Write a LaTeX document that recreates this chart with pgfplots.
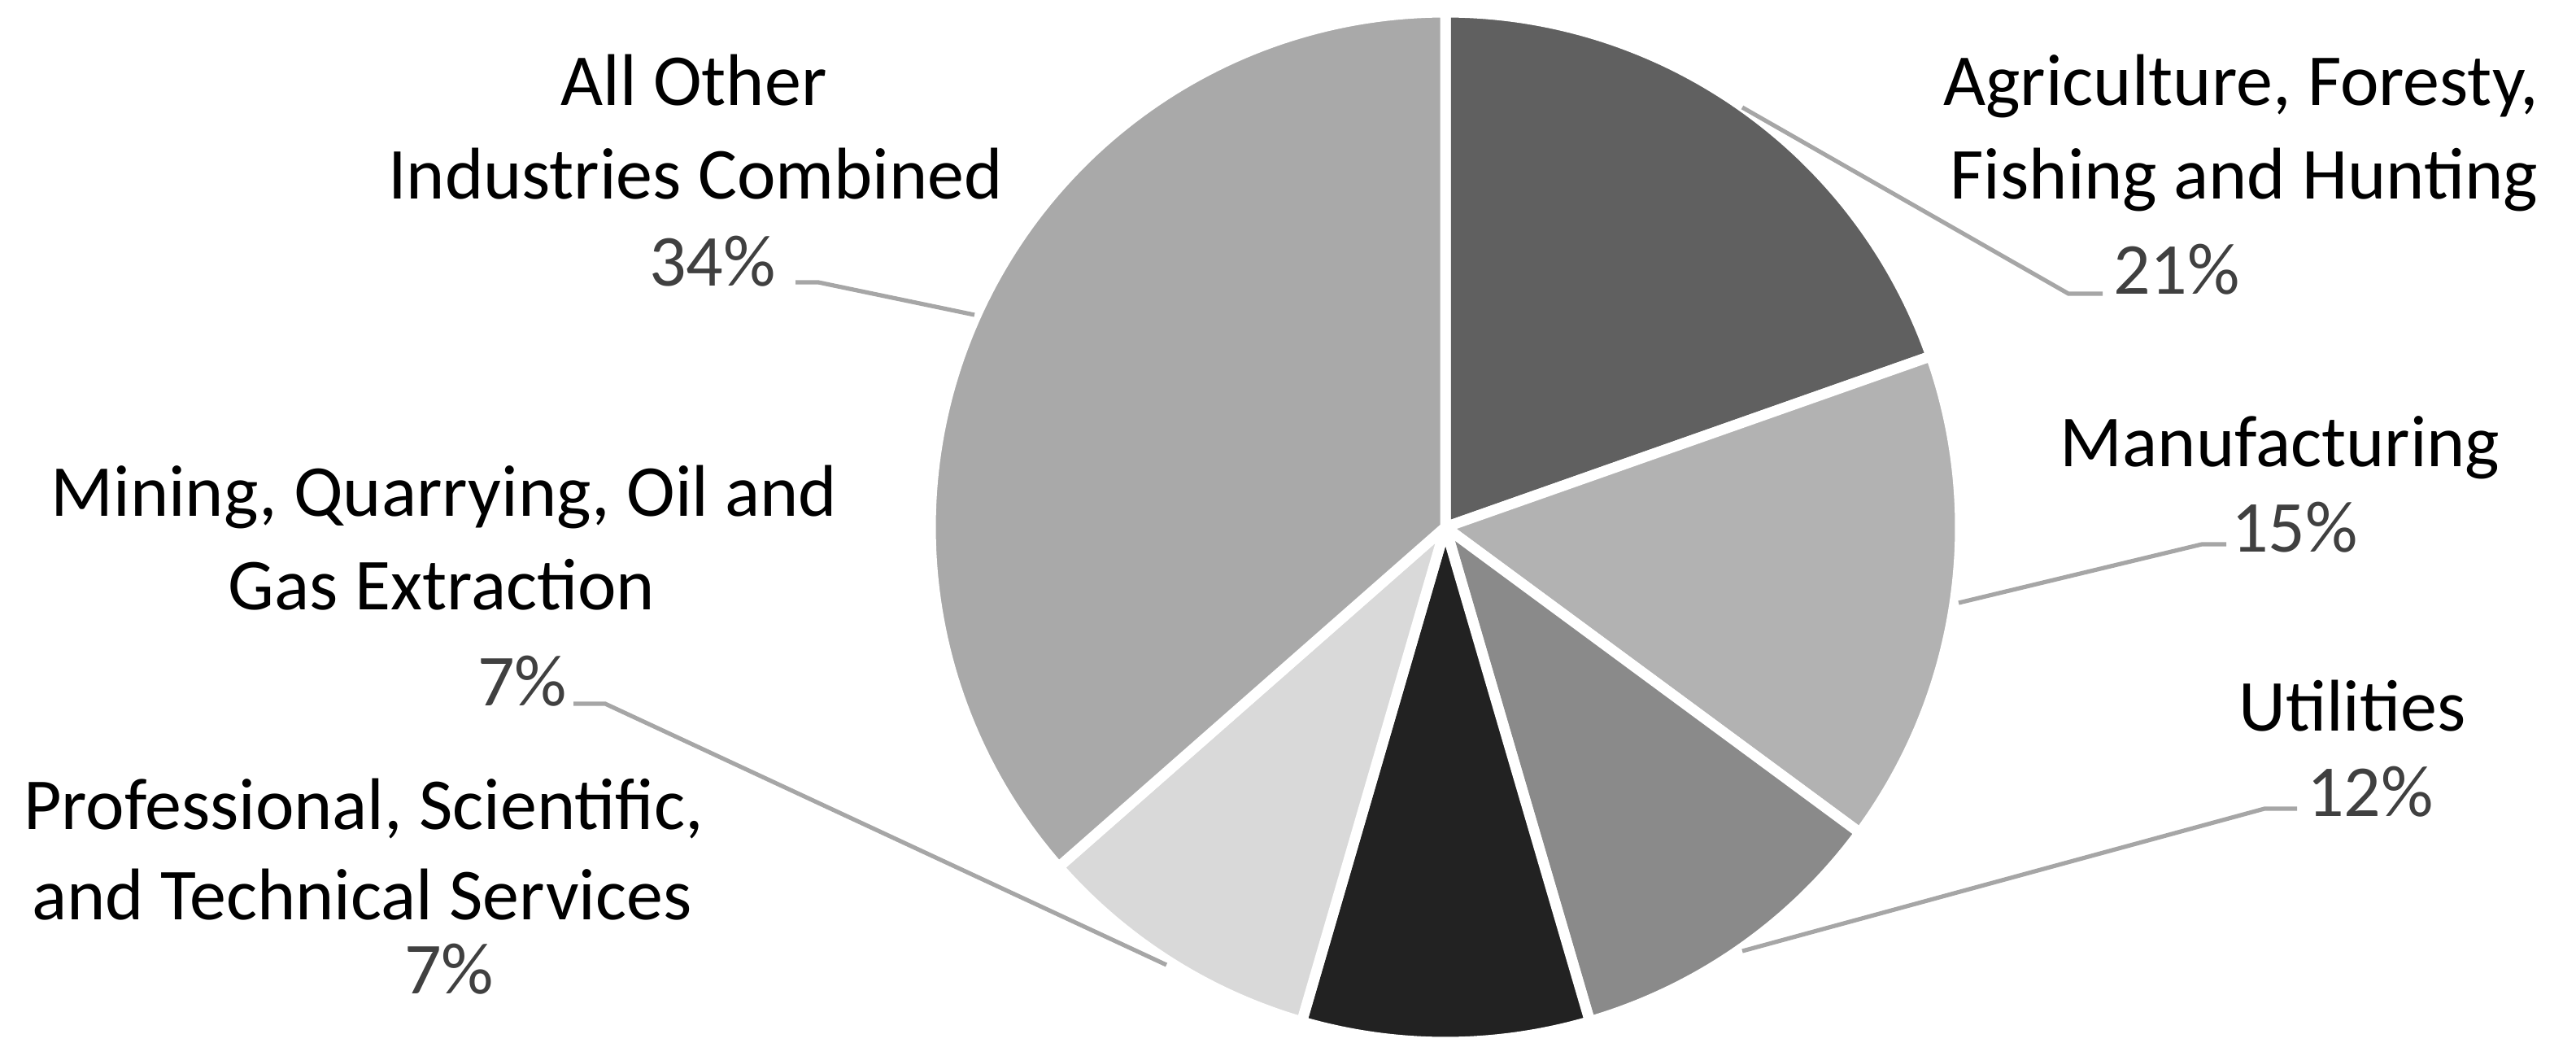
\documentclass[border=0pt]{standalone}
\usepackage{pgfplots}
\pgfplotsset{compat=1.18}
\usepackage{fontspec}
\setmainfont{Carlito}
\definecolor{cAgri}{HTML}{606060}
\definecolor{cManu}{HTML}{B2B2B2}
\definecolor{cUtil}{HTML}{8A8A8A}
\definecolor{cBlack}{HTML}{222222}
\definecolor{cLight}{HTML}{D9D9D9}
\definecolor{cOther}{HTML}{A9A9A9}
\definecolor{cLeader}{HTML}{A6A6A6}
\definecolor{cPct}{HTML}{404040}
\tikzset{lab/.style={anchor=base, inner sep=0pt, font={\fontsize{22.5pt}{28pt}\selectfont}},
         pct/.style={lab, text=cPct}}
\begin{document}
\begin{tikzpicture}
\begin{axis}[
  x=0.25pt, y=0.25pt, xmin=0, xmax=3167, ymin=0, ymax=1297,
  hide axis, clip=false,
]
\path (axis cs:0,0) rectangle (axis cs:3167,1297);
% slices: angles (deg) measured clockwise from top; shares ~ 19.6, 15.5, 10.4, 9.0, 9.0, 36.5 %
\addplot[fill=cAgri, draw=white, line width=3.25pt, line join=round, domain=19.4:90, samples=80, variable=\t]
  ({1777+633*cos(\t)},{649+633*sin(\t)}) -- (axis cs:1777,649) -- cycle;
\addplot[fill=cManu, draw=white, line width=3.25pt, line join=round, domain=-36.4:19.4, samples=80, variable=\t]
  ({1777+633*cos(\t)},{649+633*sin(\t)}) -- (axis cs:1777,649) -- cycle;
\addplot[fill=cUtil, draw=white, line width=3.25pt, line join=round, domain=-73.7:-36.4, samples=60, variable=\t]
  ({1777+633*cos(\t)},{649+633*sin(\t)}) -- (axis cs:1777,649) -- cycle;
\addplot[fill=cBlack, draw=white, line width=3.25pt, line join=round, domain=-106.2:-73.7, samples=60, variable=\t]
  ({1777+633*cos(\t)},{649+633*sin(\t)}) -- (axis cs:1777,649) -- cycle;
\addplot[fill=cLight, draw=white, line width=3.25pt, line join=round, domain=-138.7:-106.2, samples=60, variable=\t]
  ({1777+633*cos(\t)},{649+633*sin(\t)}) -- (axis cs:1777,649) -- cycle;
\addplot[fill=cOther, draw=white, line width=3.25pt, line join=round, domain=90:221.3, samples=120, variable=\t]
  ({1777+633*cos(\t)},{649+633*sin(\t)}) -- (axis cs:1777,649) -- cycle;
% leader lines
\addplot[cLeader, line width=1.3pt] coordinates {(2142,1165) (2543,936) (2585,936)};
\addplot[cLeader, line width=1.3pt] coordinates {(2408,556) (2707,628) (2737,628)};
\addplot[cLeader, line width=1.3pt] coordinates {(2142,128) (2784,303) (2824,303)};
\addplot[cLeader, line width=1.3pt] coordinates {(1434,111) (744,432) (705,432)};
\addplot[cLeader, line width=1.3pt] coordinates {(1198,910) (1006,950) (978,950)};
% labels
\node[lab] at (axis cs:853,1167) {All Other};
\node[lab] at (axis cs:855,1052) {Industries Combined};
\node[pct] at (axis cs:876,945) {34\%};
\node[lab] at (axis cs:2755,1167) {Agriculture, Foresty,};
\node[lab] at (axis cs:2759,1052) {Fishing and Hunting};
\node[pct] at (axis cs:2676,935) {21\%};
\node[lab] at (axis cs:2803,723) {Manufacturing};
\node[pct] at (axis cs:2821,618) {15\%};
\node[lab] at (axis cs:2892,399) {Utilities};
\node[pct] at (axis cs:2914,294) {12\%};
\node[lab] at (axis cs:546,662) {Mining, Quarrying, Oil and};
\node[lab] at (axis cs:543,547) {Gas Extraction};
\node[pct] at (axis cs:642,430) {7\%};
\node[lab] at (axis cs:447,278) {Professional, Scientific,};
\node[lab] at (axis cs:445,167) {and Technical Services};
\node[pct] at (axis cs:552,76) {7\%};
\end{axis}
\end{tikzpicture}
\end{document}
